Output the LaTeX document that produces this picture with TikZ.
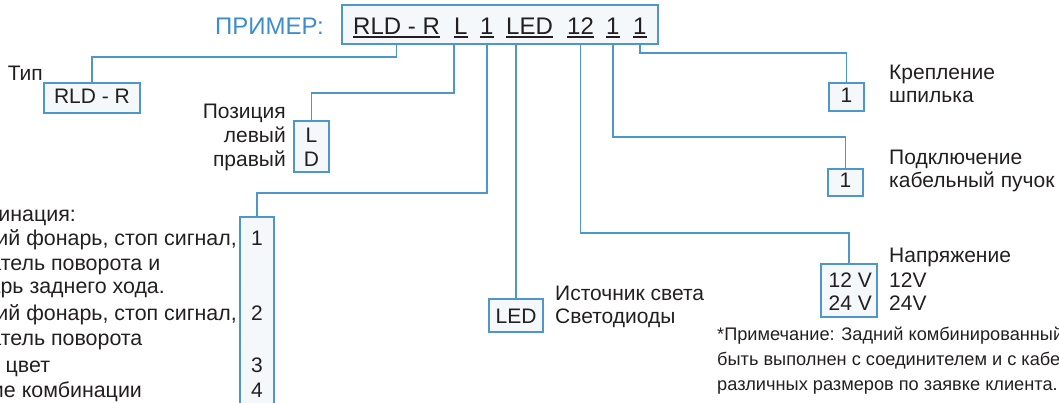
\documentclass[tikz,border=0pt]{standalone}
\usepackage{fontspec}
\setmainfont{Liberation Sans}
\usetikzlibrary{calc}
\definecolor{lineblue}{HTML}{4F96CD}
\definecolor{boxfill}{HTML}{F4F8FA}
\definecolor{ink}{HTML}{231F20}
\definecolor{titleblue}{HTML}{3E8DCB}
\tikzset{
  link/.style={draw=lineblue, line width=1.3pt},
  optbox/.style={draw=lineblue, fill=boxfill, line width=1.3pt, inner sep=0pt, outer sep=0pt, anchor=north west},
  lbl/.style={inner sep=0pt, text=ink, font=\fontsize{21}{24}\selectfont},
  leftlbl/.style={inner sep=0pt, text=ink, font=\fontsize{21.4}{24}\selectfont},
  code/.style={inner sep=0pt, text=ink, font=\fontsize{24}{28}\selectfont, anchor=base west},
  uline/.style={draw=ink, line width=1.2pt},
  notetext/.style={inner sep=0pt, text=ink, font=\fontsize{18.2}{25}\selectfont, anchor=base west},
}
\begin{document}
\begin{tikzpicture}[x=1pt, y=-1pt]
\useasboundingbox (0,0) rectangle (1059,403);
% title
\node[inner sep=0pt, anchor=base west, text=titleblue, font=\fontsize{24}{28}\selectfont] (title) at (215,35) {ПРИМЕР:};
% main code box
\node[optbox, minimum width=316pt, minimum height=39pt] (main) at (342,5) {};
\node[code] (c1) at (353,34.5) {RLD - R};
\node[code] (c2) at (454,34.5) {L};
\node[code] (c3) at (480,34.5) {1};
\node[code] (c4) at (506,34.5) {LED};
\node[code] (c5) at (567,34.5) {12};
\node[code] (c6) at (606,34.5) {1};
\node[code] (c7) at (633,34.5) {1};
\foreach \c in {c1,c2,c3,c4,c5,c6,c7}{
  \draw[uline] ($(\c.base west)+(0,2.5)$) -- ($(\c.base east)+(0,2.5)$);
}
% option boxes
\node[optbox, minimum width=96pt, minimum height=30pt] (tipbox) at (44,83) {};
\node[optbox, minimum width=35pt, minimum height=51pt] (posbox) at (294,121) {};
\node[optbox, minimum width=34pt, minimum height=203pt] (combbox) at (240,217) {};
\node[optbox, minimum width=54pt, minimum height=33pt] (ledbox) at (489,299) {};
\node[optbox, minimum width=56pt, minimum height=53pt] (voltbox) at (821,264) {};
\node[optbox, minimum width=35pt, minimum height=27pt] (connbox) at (828,169) {};
\node[optbox, minimum width=35pt, minimum height=28pt] (mountbox) at (829,83) {};
% connectors
\draw[link] (c1.south |- main.south) -- ++(0,13) -| (tipbox.north);
\draw[link] (c2.south west |- main.south) -- ++(0,49) -| (posbox.north);
\draw[link] (c3.south |- main.south) -- ++(0,149) -| (combbox.north);
\draw[link] (ledbox.north |- main.south) -- (ledbox.north);
\draw[link] (c5.south |- main.south) -- ++(0,189) -| (voltbox.north);
\draw[link] (c6.south |- main.south) -- ++(0,93) -| (connbox.north);
\draw[link] (c7.south |- main.south) -- ++(0,9) -| (mountbox.north);
% Type
\node[lbl, anchor=base east] (tip) at (43,81) {Тип};
\node[lbl, anchor=base] (tipv) at (92,104) {RLD - R};
% Position
\node[lbl, anchor=base east] (pos) at (286,119) {Позиция};
\node[lbl, anchor=base east] (posl) at (286,143) {левый};
\node[lbl, anchor=base east] (posr) at (286,167) {правый};
\node[lbl, anchor=base] (posL) at (311.5,143) {L};
\node[lbl, anchor=base] (posD) at (311.5,167) {D};
% Combination
\node[leftlbl, anchor=base east] (l2) at (237,245) {Задний фонарь, стоп сигнал,};
\node[leftlbl, anchor=base west] (l1) at ($(l2.base west)+(0,-23)$) {Комбинация:};
\node[leftlbl, anchor=base west] (l3) at ($(l2.base west)+(0,25)$) {указатель поворота и};
\node[leftlbl, anchor=base west] (l4) at ($(l2.base west)+(0,48)$) {фонарь заднего хода.};
\node[leftlbl, anchor=base west] (l5) at ($(l2.base west)+(0,75)$) {Задний фонарь, стоп сигнал,};
\node[leftlbl, anchor=base west] (l6) at ($(l2.base west)+(0,100)$) {указатель поворота};
\node[leftlbl, anchor=base west] (l7) at ($(l2.base west)+(0,127)$) {Один цвет};
\node[leftlbl, anchor=base west] (l8) at ($(l2.base west)+(0,152)$) {Другие комбинации};
\node[lbl, anchor=base] (n1) at (257,245) {1};
\node[lbl, anchor=base] (n2) at (257,320) {2};
\node[lbl, anchor=base] (n3) at (257,372) {3};
\node[lbl, anchor=base] (n4) at (257,397) {4};
% Light source
\node[lbl, anchor=base] (ledv) at (516,323) {LED};
\node[lbl, anchor=base west] (src1) at (555,300) {Источник света};
\node[lbl, anchor=base west] (src2) at (555,323) {Светодиоды};
% Voltage
\node[lbl, anchor=base east] (v12) at (872,287) {12 V};
\node[lbl, anchor=base east] (v24) at (872,310) {24 V};
\node[lbl, anchor=base west] (volt) at (889,262) {Напряжение};
\node[lbl, anchor=base west] (volt12) at (889,287) {12V};
\node[lbl, anchor=base west] (volt24) at (889,310) {24V};
% Connection
\node[lbl, anchor=base] (connv) at (845.5,188) {1};
\node[lbl, anchor=base west] (conn1) at (889,165) {Подключение};
\node[lbl, anchor=base west] (conn2) at (889,188) {кабельный пучок};
% Mounting
\node[lbl, anchor=base] (mountv) at (846.5,103) {1};
\node[lbl, anchor=base west] (mount1) at (889,80) {Крепление};
\node[lbl, anchor=base west] (mount2) at (889,103) {шпилька};
% Note
\node[notetext] (note1) at (717,340) {*Примечание: Задний комбинированный фонарь может};
\node[notetext] (note2) at (717,365) {быть выполнен с соединителем и с кабелем};
\node[notetext] (note3) at (717,390) {различных размеров по заявке клиента.};
\end{tikzpicture}
\end{document}
